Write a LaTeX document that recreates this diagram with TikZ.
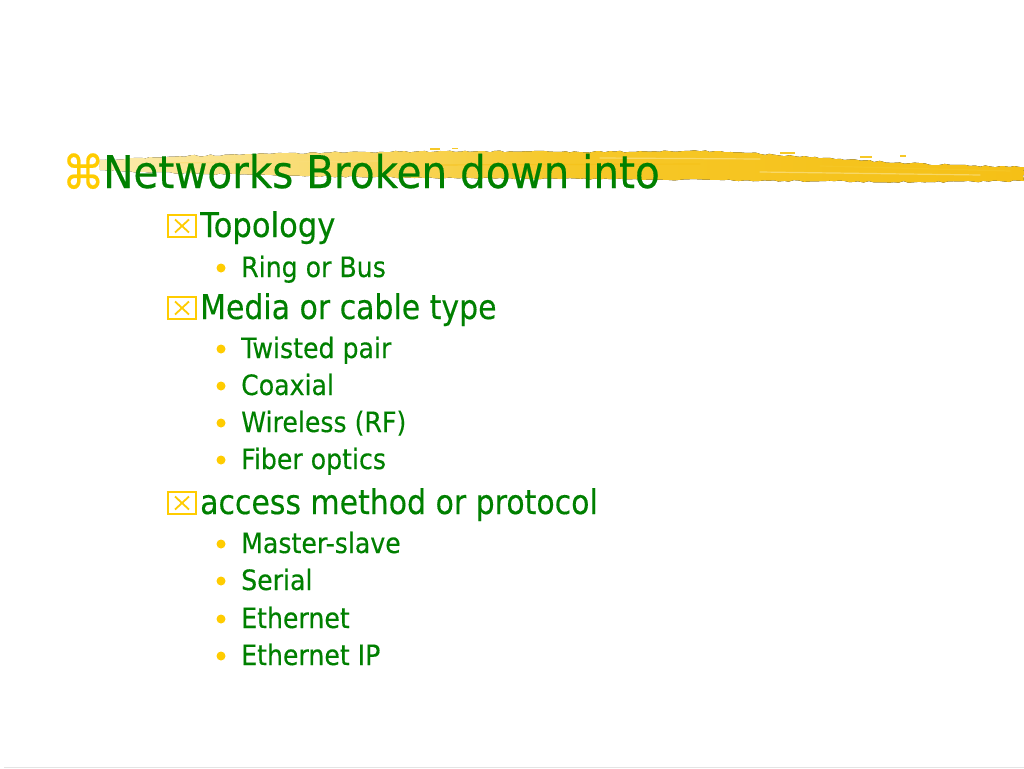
\documentclass[tikz,border=0pt]{standalone}
\usepackage{fontspec}
\setmainfont{DejaVu Sans}[FakeBold=0.35]
\usetikzlibrary{decorations.pathmorphing}
\definecolor{txtgreen}{RGB}{0,128,0}
\definecolor{bulyellow}{RGB}{255,204,0}
\definecolor{brushA}{RGB}{252,236,175}
\definecolor{brushB}{RGB}{246,200,40}
\definecolor{brushC}{RGB}{245,192,22}
\definecolor{brushL}{RGB}{250,222,120}
\definecolor{rulegrey}{RGB}{228,228,228}
\tikzset{
  ttl/.style={anchor=base west, inner sep=0pt, text=txtgreen, font=\fontsize{45}{54}\selectfont},
  lvltwo/.style={anchor=base west, inner sep=0pt, text=txtgreen, font=\fontsize{34}{40}\selectfont},
  lvlthree/.style={anchor=base west, inner sep=0pt, text=txtgreen, font=\fontsize{28}{34}\selectfont},
  dotbullet/.style={circle, fill=bulyellow, inner sep=0pt, minimum size=9pt},
  xbox/.style={draw=bulyellow, line width=2.4pt, inner sep=0pt, minimum width=28pt, minimum height=22pt,
    path picture={\draw[bulyellow, line width=1.8pt]
      ([shift={(-7pt,-6.5pt)}]path picture bounding box.center) -- ([shift={(7pt,6.5pt)}]path picture bounding box.center)
      ([shift={(-7pt,6.5pt)}]path picture bounding box.center) -- ([shift={(7pt,-6.5pt)}]path picture bounding box.center);}},
  cmdbullet/.style={anchor=base west, inner sep=0pt, text=bulyellow, font=\fontsize{47}{54}\selectfont},
  streak/.style={line width=1.2pt, line cap=round}
}
\newcommand{\sq}[1]{\scalebox{0.9}[1]{#1}}
\begin{document}
\begin{tikzpicture}[x=1pt, y=-1pt]
\useasboundingbox (0,0) rectangle (1024,768);
\fill[white] (0,0) rectangle (1024,768);
% brush stroke behind the title
\fill[left color=brushA, right color=brushC, middle color=brushB,
      decorate, decoration={random steps, segment length=5pt, amplitude=0.9pt}]
  (100,160) .. controls (220,153) and (420,150) .. (560,152)
  -- (720,151) .. controls (800,156) and (900,165) .. (1024,167)
  -- (1024,181) .. controls (900,183) and (800,181) .. (720,180)
  -- (560,179) .. controls (420,178) and (220,176) .. (100,170) -- cycle;
% brush texture
\draw[streak, brushL, opacity=0.8] (160,163) -- (380,161);
\draw[streak, brushC, opacity=0.6] (430,165) -- (700,164);
\draw[streak, brushA, opacity=0.5] (600,158) -- (760,159);
\draw[streak, brushA, opacity=0.5] (760,172) -- (980,175);
\draw[streak, brushB, opacity=0.7] (820,166) -- (1010,171);
% stray flecks above the stroke
\fill[brushB] (430,148) rectangle (440,149.5);
\fill[brushB] (452,147.5) rectangle (458,149);
\fill[brushB] (780,152) rectangle (795,154);
\fill[brushB] (860,156) rectangle (872,157.5);
\fill[brushB] (900,155) rectangle (906,156.5);
% bottom rule
\draw[rulegrey, line width=1pt] (4,767) -- (1024,767);
% title
\node[cmdbullet] (cmd) at (62,189) {\scalebox{0.9}[1]{⌘}};
\node[ttl] (title) at (103,188) {\sq{Networks Broken down into}};
% level 2 and 3
\node[xbox] (b1) at (182,226) {};
\node[lvltwo] (topo) at (200,237) {\sq{Topology}};
\node[dotbullet] (d1) at (221,268) {};
\node[lvlthree] (ring) at (241,277) {\sq{Ring or Bus}};
\node[xbox] (b2) at (182,308) {};
\node[lvltwo] (media) at (200,319) {\scalebox{0.88}[1]{Media or cable type}};
\node[dotbullet] (d2) at (221,349) {};
\node[lvlthree] (tw) at (241,358) {\sq{Twisted pair}};
\node[dotbullet] (d3) at (221,386) {};
\node[lvlthree] (coax) at (241,395) {\sq{Coaxial}};
\node[dotbullet] (d4) at (221,423) {};
\node[lvlthree] (wl) at (241,432) {\sq{Wireless (RF)}};
\node[dotbullet] (d5) at (221,460) {};
\node[lvlthree] (fo) at (241,469) {\sq{Fiber optics}};
\node[xbox] (b3) at (182,503) {};
\node[lvltwo] (acc) at (200,514) {\scalebox{0.88}[1]{access method or protocol}};
\node[dotbullet] (d6) at (221,544) {};
\node[lvlthree] (ms) at (241,553) {\sq{Master-slave}};
\node[dotbullet] (d7) at (221,581) {};
\node[lvlthree] (ser) at (241,590) {\sq{Serial}};
\node[dotbullet] (d8) at (221,619) {};
\node[lvlthree] (eth) at (241,628) {\sq{Ethernet}};
\node[dotbullet] (d9) at (221,656) {};
\node[lvlthree] (ethip) at (241,665) {\sq{Ethernet IP}};
\end{tikzpicture}
\end{document}
